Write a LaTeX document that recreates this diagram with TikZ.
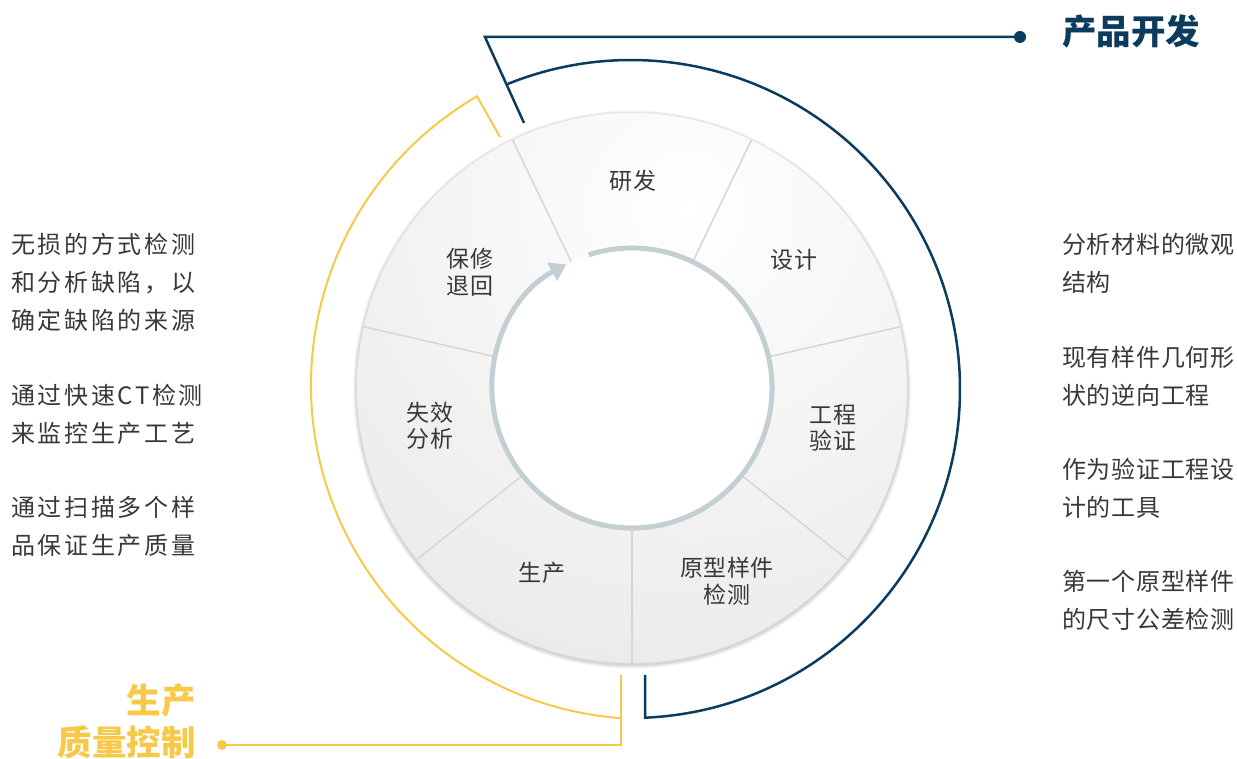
\documentclass[tikz,border=0pt]{standalone}
\usepackage{fontspec}
\setmainfont{Noto Sans CJK SC}
\newfontfamily\sidefontL[LetterSpace=11]{Noto Sans CJK SC}
\newfontfamily\sidefontR[LetterSpace=3]{Noto Sans CJK SC}
\newfontfamily\labfont[LetterSpace=2]{Noto Sans CJK SC}
\usetikzlibrary{arrows.meta,calc}
\definecolor{navy}{HTML}{0B3C5D}
\definecolor{gold}{HTML}{F7C948}
\definecolor{diskgray}{HTML}{E5E3E2}
\definecolor{divgray}{HTML}{D6D6D5}
\definecolor{ringgray}{HTML}{C3CFD2}
\definecolor{txt}{HTML}{3B3736}
\tikzset{
  lab/.style={font=\labfont\fontsize{23}{26.5}\selectfont, text=txt, align=center, inner sep=0pt},
  sideL/.style={anchor=base west, font=\sidefontL\fontsize{24}{38}\selectfont, text=txt, inner sep=0pt},
  sideR/.style={anchor=base west, font=\sidefontR\fontsize{24}{38}\selectfont, text=txt, inner sep=0pt},
  ttl/.style={font=\bfseries\fontsize{34.5}{43}\selectfont, inner sep=0pt},
  navyline/.style={navy, line width=2.5pt},
  goldline/.style={gold, line width=2pt},
  divider/.style={divgray, line width=1.5pt}
}
\begin{document}
\begin{tikzpicture}[x=1pt,y=1pt]
\useasboundingbox (0,0) rectangle (1237,759);
\coordinate (C) at (632,371);

% soft shadow
\foreach \i in {1,...,5}
  \fill[black, opacity=0.035] ($(C)+(0,-1.5)$) circle ({275+\i*0.8});

% disc with light glow at upper right
\begin{scope}
  \clip (C) circle (275);
  \fill[diskgray] (C) circle (275);
  \shade[inner color=white, outer color=diskgray] (690,549) circle (640);
\end{scope}

% dividers
\foreach \a in {64.29, 12.86, -38.57, -90, -141.43, 167.14, 115.71}
  \draw[divider] ($(C)+(\a:140)$) -- ($(C)+(\a:275)$);

% inner white circle and cycle arrow
\fill[white] (C) circle (140);
\draw[ringgray, line width=5pt, -{Triangle[length=16pt,width=20pt]}]
  ($(C)+(108:140)$) arc[start angle=108, end angle=-242, radius=140];

% segment labels
\node[lab] (rd) at (633,578) {研发};
\node[lab] (sj) at (794,499) {设计};
\node[lab] (gc) at (833,331) {工程\\验证};
\node[lab] (yx) at (727,178) {原型样件\\检测};
\node[lab] (sc) at (542,186) {生产};
\node[lab] (sx) at (430,333) {失效\\分析};
\node[lab] (bx) at (470,487) {保修\\退回};

% product development (navy)
\coordinate (B) at (631,370);
\coordinate (bc) at (485,722);
\coordinate (bs) at (524,636);
\coordinate (bdot) at (1020,722);
\coordinate (bt) at (645,84);
\coordinate (bb) at (645,41.3);
\draw[navyline, line join=miter] (bdot) -- (bc) -- (bs);
\draw[navyline, line join=miter] (bt) -- (bb) arc[start angle=-87.56, end angle=112, radius=329];
\fill[navy] (bdot) circle (6);
\node[ttl, text=navy, anchor=base west] (pd) at (1062,714.9) {产品开发};

% production quality control (gold)
\coordinate (Y) at (645,374);
\coordinate (yt) at ($(Y)+(120.2:334)$);
\coordinate (ys) at (500,622);
\coordinate (yv) at (621,84);
\coordinate (yc) at (621,14);
\coordinate (ydot) at (222,14);
\draw[goldline, line join=miter] (ys) -- (yt) arc[start angle=120.2, end angle=265.88, radius=334];
\draw[goldline, line join=miter] (yv) -- (yc) -- (ydot);
\fill[gold] (ydot) circle (5);
\node[ttl, text=gold, anchor=base east] (qc1) at (196,45.9) {生产};
\node[ttl, text=gold, anchor=base east] (qc2) at (196,3.9) {质量控制};

% left descriptions
\node[sideL] (l1) at (11,505.9) {无损的方式检测};
\node[sideL] (l2) at (11,467.9) {和分析缺陷，以};
\node[sideL] (l3) at (11,429.9) {确定缺陷的来源};
\node[sideL] (l4) at (11,354.9) {通过快速CT检测};
\node[sideL] (l5) at (11,316.9) {来监控生产工艺};
\node[sideL] (l6) at (11,242.9) {通过扫描多个样};
\node[sideL] (l7) at (11,204.9) {品保证生产质量};

% right descriptions
\node[sideR] (r1) at (1062,505.9) {分析材料的微观};
\node[sideR] (r2) at (1062,467.9) {结构};
\node[sideR] (r3) at (1062,392.9) {现有样件几何形};
\node[sideR] (r4) at (1062,354.9) {状的逆向工程};
\node[sideR] (r5) at (1062,280.9) {作为验证工程设};
\node[sideR] (r6) at (1062,242.9) {计的工具};
\node[sideR] (r7) at (1062,168.9) {第一个原型样件};
\node[sideR] (r8) at (1062,130.9) {的尺寸公差检测};
\end{tikzpicture}
\end{document}
